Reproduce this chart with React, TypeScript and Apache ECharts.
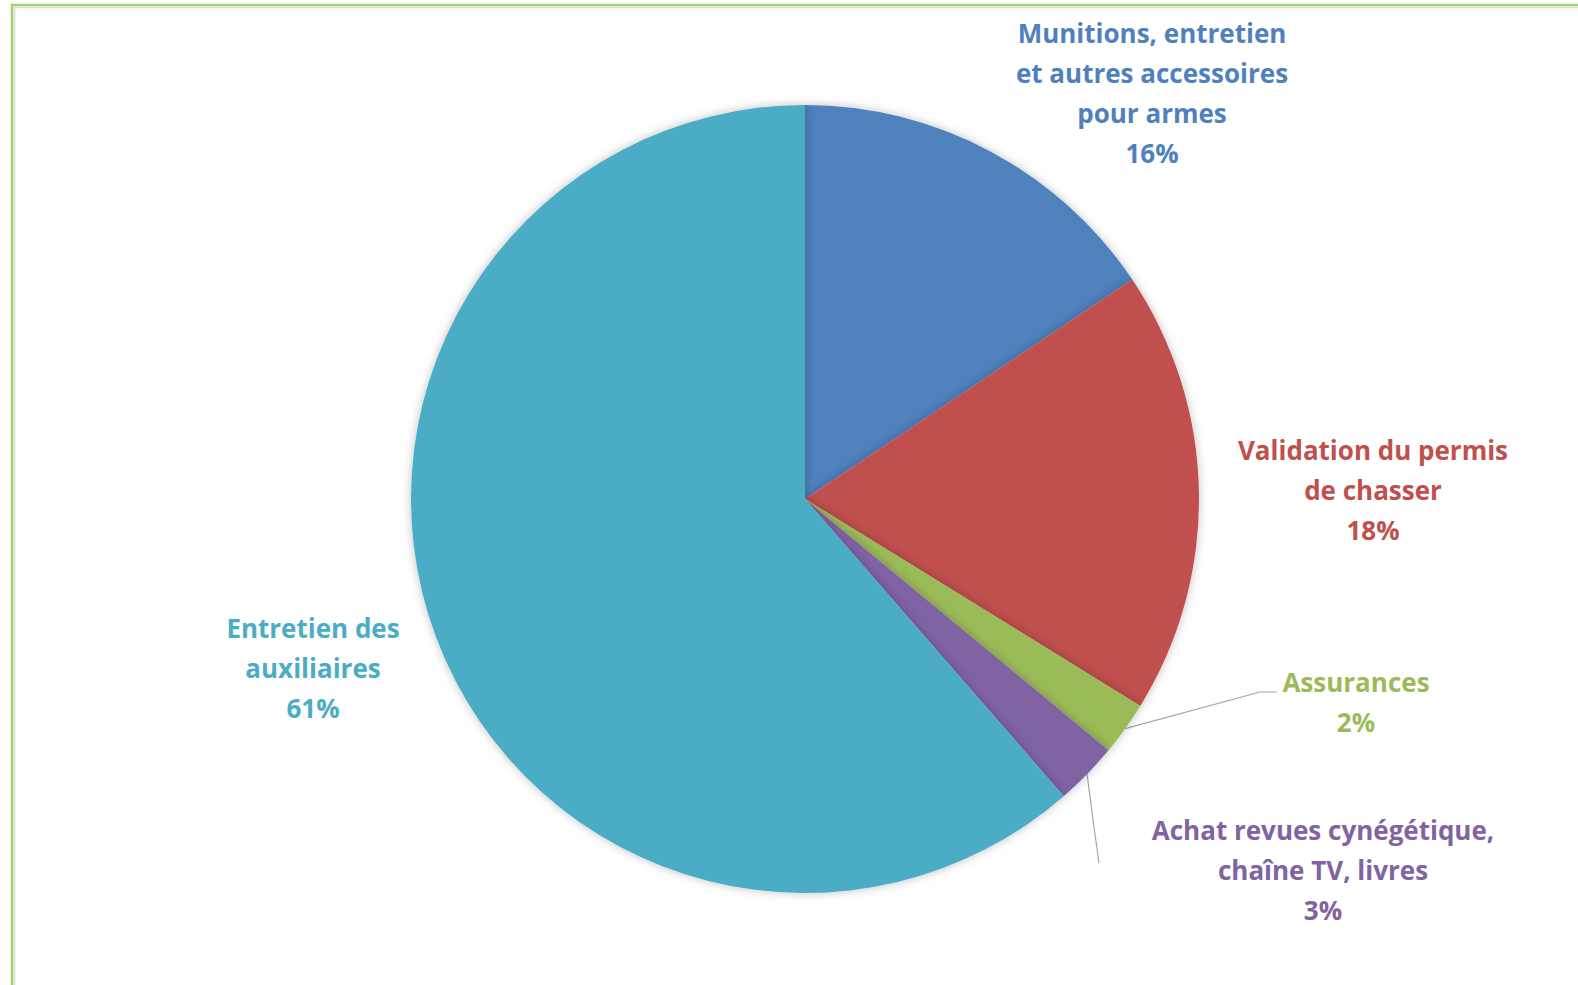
import React, { useEffect, useRef } from "react";
import * as echarts from "echarts";

const categories = [
  "Munitions, entretien\net autres accessoires\npour armes",
  "Validation du permis\nde chasser",
  "Assurances",
  "Achat revues cynégétique,\nchaîne TV, livres",
  "Entretien des\nauxiliaires",
];
const values = [15.6, 18.2, 2.2, 2.6, 61.4];
const colors = ["#4F81BD", "#C0504D", "#9BBB59", "#8064A2", "#4BACC6"];

// label centres (px) and optional leader-line bends
const labelPos: [number, number][] = [
  [1152, 93],
  [1373, 490],
  [1356, 702],
  [1323, 870],
  [313, 668],
];
const leaderBends: ([number, number][] | null)[] = [
  null,
  null,
  [[1260, 692], [1277, 692]],
  [[1093, 820], [1099, 863]],
  null,
];

export default function App() {
  const ref = useRef<HTMLDivElement>(null);
  useEffect(() => {
    document.body.style.margin = "0";
    const chart = echarts.init(ref.current!, undefined, { renderer: "svg" });
    chart.setOption({
      animation: false,
      backgroundColor: "#ffffff",
      graphic: [
        {
          type: "rect",
          shape: { x: 14.5, y: 7.5, width: 1700, height: 1100 },
          style: { fill: "none", stroke: "#dcdcdc", lineWidth: 1.5 },
          silent: true,
        },
        {
          type: "rect",
          shape: { x: 12, y: 5, width: 1700, height: 1100 },
          style: { fill: "none", stroke: "#9DD46A", lineWidth: 2.5 },
          silent: true,
        },
      ],
      series: [
        {
          type: "pie",
          center: [805, 499],
          radius: 394,
          startAngle: 90,
          clockwise: true,
          avoidLabelOverlap: false,
          itemStyle: {
            shadowBlur: 10,
            shadowColor: "rgba(0,0,0,0.25)",
          },
          label: {
            show: true,
            position: "outside",
            fontFamily: "'Open Sans', sans-serif",
            fontWeight: "bold",
            fontSize: 26,
            lineHeight: 40,
            align: "center",
            formatter: (p: any) => `${p.name}\n${Math.round(p.percent)}%`,
          },
          labelLine: {
            show: true,
            length: 10,
            length2: 10,
            lineStyle: { color: "#a6a6a6", width: 1.2 },
          },
          labelLayout: (p: any) => {
            const i = p.dataIndex;
            const [x, y] = labelPos[i];
            const res: any = { x, y, align: "center", verticalAlign: "middle" };
            const bends = leaderBends[i];
            if (bends && p.labelLinePoints) {
              res.labelLinePoints = [p.labelLinePoints[0], bends[0], bends[1]];
            }
            return res;
          },
          data: categories.map((name, i) => ({
            name,
            value: values[i],
            itemStyle: { color: colors[i] },
            label: { color: colors[i] },
            labelLine: { show: leaderBends[i] !== null },
          })),
        },
      ],
    });
    return () => chart.dispose();
  }, []);
  return <div ref={ref} style={{ width: 1578, height: 985 }} />;
}
